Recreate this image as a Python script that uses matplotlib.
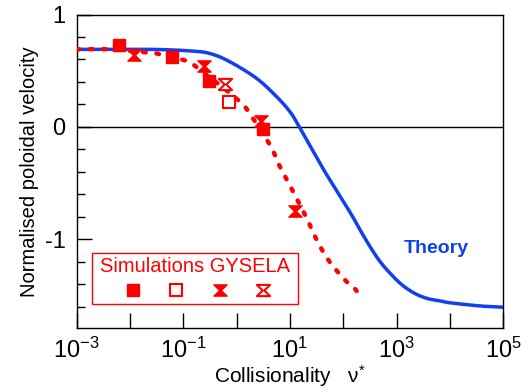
import numpy as np
import matplotlib
matplotlib.use("Agg")
import matplotlib.pyplot as plt
from matplotlib.path import Path
from matplotlib.patches import Rectangle

plt.rcParams['font.family'] = ['Liberation Sans', 'DejaVu Sans']
plt.rcParams['mathtext.fontset'] = 'custom'
plt.rcParams['mathtext.rm'] = 'Liberation Sans'
plt.rcParams['mathtext.it'] = 'Liberation Sans:italic'
plt.rcParams['axes.unicode_minus'] = False

# theory curve, log10 of collisionality
theory_lognu = [-3.0, -1.625, -0.874, -0.499, -0.124, 0.377, 0.752, 1.002, 1.176, 1.565,
                1.752, 2.128, 2.315, 2.503, 2.69, 2.878, 3.066, 3.253, 3.44, 3.629, 3.816,
                4.004, 4.567, 5.0]
theory_v = [0.69, 0.69, 0.676, 0.653, 0.579, 0.431, 0.268, 0.134, 0.0, -0.325,
            -0.474, -0.76, -0.917, -1.066, -1.199, -1.302, -1.391, -1.457, -1.504, -1.533,
            -1.548, -1.565, -1.593, -1.604]

# dotted fit through the simulations
fit_lognu = [-3.0, -2.375, -1.625, -1.437, -1.03, -0.842, -0.5, -0.2, 0.096, 0.238, 0.627,
             0.814, 1.015, 1.315, 1.503, 1.72, 2.02, 2.208, 2.25]
fit_v = [0.69, 0.69, 0.66, 0.647, 0.60, 0.564, 0.44, 0.33, 0.209, 0.125, -0.162, -0.355,
         -0.535, -0.813, -1.006, -1.184, -1.356, -1.436, -1.46]

# GYSELA simulations
sq_nu = [0.0062, 0.0605, 0.308, 3.06]
sq_v = [0.733, 0.623, 0.407, -0.02]
osq_nu = [0.72]
osq_v = [0.223]
hg_nu = [0.012, 0.244, 2.87, 12.5]
hg_v = [0.638, 0.543, 0.054, -0.746]
ohg_nu = [0.605]
ohg_v = [0.378]

red = '#ff0000'
blue = '#1040f0'


def smooth(lx, ys, n=12):
    # catmull-rom through the read points, in log-x
    lx = np.asarray(lx, float)
    ys = np.asarray(ys, float)
    px = np.concatenate([[2 * lx[0] - lx[1]], lx, [2 * lx[-1] - lx[-2]]])
    py = np.concatenate([[2 * ys[0] - ys[1]], ys, [2 * ys[-1] - ys[-2]]])
    ox, oy = [], []
    t = np.linspace(0, 1, n, endpoint=False)
    for i in range(1, len(px) - 2):
        for p, o in ((px, ox), (py, oy)):
            a, b, c, d = p[i - 1], p[i], p[i + 1], p[i + 2]
            o.extend(0.5 * (2 * b + (-a + c) * t + (2 * a - 5 * b + 4 * c - d) * t ** 2
                            + (-a + 3 * b - 3 * c + d) * t ** 3))
    ox.append(lx[-1])
    oy.append(ys[-1])
    return 10 ** np.array(ox), np.array(oy)


hg = Path([(-1, 0.85), (1, 0.85), (0.12, 0), (1, -0.85), (-1, -0.85), (-0.12, 0), (-1, 0.85)],
          [Path.MOVETO, Path.LINETO, Path.LINETO, Path.LINETO, Path.LINETO, Path.LINETO,
           Path.CLOSEPOLY])

fig, ax = plt.subplots(figsize=(5.21, 3.92), dpi=100)
fig.subplots_adjust(left=0.147, right=0.966, top=0.963, bottom=0.163)

ax.axhline(0, color='black', lw=1.0, zorder=1)
tx, ty = smooth(theory_lognu, theory_v)
ax.plot(tx, ty, color=blue, lw=2.5, zorder=2)
fx, fy = smooth(fit_lognu, fit_v)
ax.plot(fx, fy, color=red, lw=3.2, linestyle=(0, (0.6, 2.4)),
        dash_capstyle='round', zorder=3)

ax.plot(sq_nu, sq_v, 's', ms=8.6, color=red, zorder=5)
ax.plot(osq_nu, osq_v, 's', ms=8.6, mfc='white', mec=red, mew=1.5, zorder=5)
ax.plot(hg_nu, hg_v, marker=hg, ls='none', ms=9.5, color=red, zorder=5)
ax.plot(ohg_nu, ohg_v, marker=hg, ls='none', ms=9.5, mfc='white', mec=red, mew=1.5, zorder=5)

ax.text(10**3.737, -1.08, 'Theory', color=blue, fontsize=14, fontweight='bold',
        ha='center', va='center')

# legend box
ax.add_patch(Rectangle((0.035, 0.077), 0.483, 0.161, transform=ax.transAxes,
                       fill=False, edgecolor=red, lw=1.0, zorder=6))
ax.text(0.054, 0.196, 'Simulations GYSELA', color=red, fontsize=14.5,
        transform=ax.transAxes, ha='left', va='center', zorder=6)
ax.plot([0.133], [0.121], 's', ms=8.6, color=red, transform=ax.transAxes, zorder=6)
ax.plot([0.234], [0.121], 's', ms=8.6, mfc='white', mec=red, mew=1.5,
        transform=ax.transAxes, zorder=6)
ax.plot([0.336], [0.121], marker=hg, ms=9.5, color=red, transform=ax.transAxes, zorder=6)
ax.plot([0.437], [0.121], marker=hg, ms=9.5, mfc='white', mec=red, mew=1.5,
        transform=ax.transAxes, zorder=6)

ax.set_xscale('log')
ax.set_xlim(1e-3, 1e5)
ax.set_ylim(-1.79, 1.0)
ax.set_xticks([1e-3, 1e-2, 1e-1, 1, 10, 100, 1e3, 1e4, 1e5])
ax.set_xticklabels(['$10^{-3}$', '', '$10^{-1}$', '', '$10^{1}$', '', '$10^{3}$', '', '$10^{5}$'])
ax.xaxis.set_minor_locator(matplotlib.ticker.NullLocator())
ax.set_yticks([-1, 0, 1])
ax.set_yticklabels(['-1', '0', '1'])
ax.set_yticks(np.arange(-1.6, 1.0, 0.2), minor=True)
ax.tick_params(axis='both', which='major', direction='in', length=11, width=1.0,
               labelsize=17, pad=8)
ax.tick_params(axis='y', which='minor', direction='in', length=5.5, width=1.0)
ax.tick_params(axis='x', which='major', pad=7)
for s in ax.spines.values():
    s.set_linewidth(1.0)

ax.set_xlabel(r'Collisionality   $\mathrm{\nu}^{*}$', fontsize=15, labelpad=0)
ax.set_ylabel('Normalised poloidal velocity', fontsize=14.5, labelpad=4)

fig.savefig('out.png', dpi=100)
